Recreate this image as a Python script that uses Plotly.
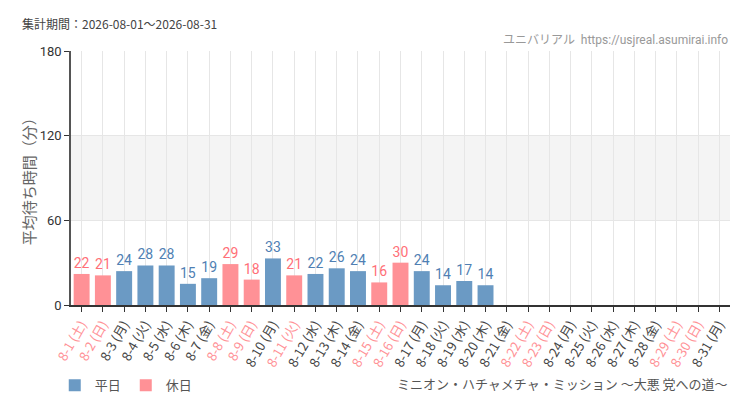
import plotly.graph_objects as go

# ---- data ----
days = [f"8-{d}" for d in range(1, 32)]
weekdays = ["土", "日", "月", "火", "水", "木", "金"] * 5
weekdays = weekdays[:31]
holidays = [1, 2, 8, 9, 11, 15, 16, 22, 23, 29, 30]
waits = [22, 21, 24, 28, 28, 15, 19, 29, 18, 33, 21, 22, 26, 24, 16, 30,
         24, 14, 17, 14, None, None, None, None, None, None, None, None,
         None, None, None]

BLUE = "#6b9ac4"
PINK = "#ff9196"
BLUE_TXT = "#4f7fb3"
PINK_TXT = "#ff6f77"
JP = "Noto Sans CJK JP"
NARROW = "Liberation Sans Narrow, Roboto, " + JP

is_hol = [i + 1 in holidays for i in range(31)]


def pick(flag):
    ys = [w if (h == flag and w is not None) else None for w, h in zip(waits, is_hol)]
    return ys


ticktext = []
for i, d in enumerate(days):
    lab = f"{d} ({weekdays[i]})"
    if is_hol[i]:
        lab = f'<span style="color:{PINK}">{lab}</span>'
    ticktext.append(lab)

fig = go.Figure()
for name, flag, col, tcol in [("平日", False, BLUE, BLUE_TXT),
                              ("休日", True, PINK, PINK_TXT)]:
    ys = pick(flag)
    fig.add_trace(go.Bar(
        x=days, y=ys, name=name,
        marker=dict(color=col, line=dict(width=0)),
        text=[str(v) if v is not None else "" for v in ys],
        textposition="outside", cliponaxis=False,
        textfont=dict(family=NARROW, size=14, color=tcol),
    ))

fig.add_shape(type="rect", xref="paper", yref="y", x0=0, x1=1, y0=60, y1=120,
              fillcolor="#f4f4f4", line=dict(width=0), layer="below")

fig.update_layout(
    width=750, height=410,
    barmode="overlay", bargap=0.25,
    plot_bgcolor="white", paper_bgcolor="white",
    margin=dict(l=71, r=20, t=51, b=105),
    font=dict(family=JP, color="#555"),
    showlegend=True,
    legend=dict(orientation="h", x=0.073, xref="container", y=0.06,
                yref="container", xanchor="left", yanchor="middle",
                font=dict(family=JP, size=13, color="#555"),
                traceorder="normal"),
    xaxis=dict(
        type="category", categoryorder="array", categoryarray=days,
        tickmode="array", tickvals=days, ticktext=ticktext,
        tickangle=-60, ticks="outside", ticklen=5, tickcolor="#333",
        showline=True, linecolor="#333", linewidth=1.5,
        showgrid=True, gridcolor="#e6e6e6", automargin=False,
        tickfont=dict(family=JP, size=13, color="#444"),
    ),
    yaxis=dict(
        range=[0, 180], tickvals=[0, 60, 120, 180],
        ticks="outside", ticklen=5, tickcolor="#333",
        showline=True, linecolor="#555", linewidth=1.5,
        showgrid=True, gridcolor="#e6e6e6", zeroline=False, automargin=False,
        tickfont=dict(family=NARROW, size=13, color="#333"),
    ),
)

# y-axis title placed by hand so it sits close to the tick labels
fig.add_annotation(text="平均待ち時間（分）", xref="paper", yref="paper",
                   x=-0.065, y=0.5, xanchor="center", yanchor="middle", textangle=-90,
                   showarrow=False, font=dict(family=JP, size=15, color="#666"))
fig.add_annotation(text="集計期間：2026-08-01～2026-08-31", xref="paper", yref="paper",
                   x=-0.078, y=1.0, yshift=28, xanchor="left", yanchor="middle",
                   showarrow=False, font=dict(family=JP, size=12, color="#444"))
fig.add_annotation(text="ユニバリアル  https://usjreal.asumirai.info", xref="paper", yref="paper",
                   x=1.0, y=1.0, yshift=11, xanchor="right", yanchor="middle",
                   showarrow=False, font=dict(family=NARROW, size=12, color="#999"))
fig.add_annotation(text="ミニオン・ハチャメチャ・ミッション ～大悪 党への道～", xref="paper",
                   yref="paper", x=1.0, y=0, yshift=-78, xanchor="right", yanchor="middle",
                   showarrow=False, font=dict(family=JP, size=13, color="#555"))

# the page's default 8px body margin would shift the whole figure
fig.write_html("out.html", config={"displayModeBar": False},
               post_script="document.body.style.margin='0';")
